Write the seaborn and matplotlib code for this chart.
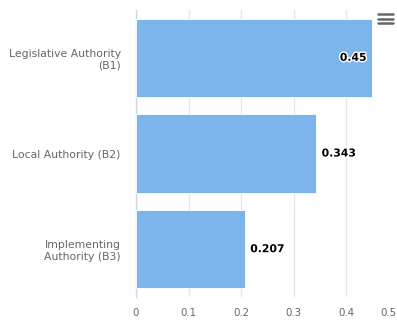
import matplotlib
matplotlib.use("Agg")
import matplotlib.pyplot as plt
import seaborn as sns
import pandas as pd
from matplotlib.lines import Line2D
import matplotlib.patheffects as pe

categories = ["Legislative Authority\n(B1)", "Local Authority (B2)", "Implementing\nAuthority (B3)"]
values = [0.45, 0.343, 0.207]
ticks = [0, 0.1, 0.2, 0.3, 0.4, 0.5]
tick_labels = ["0", "0.1", "0.2", "0.3", "0.4", "0.5"]

df = pd.DataFrame({"category": categories, "value": values})

sns.set_theme(style="white")
plt.rcParams["font.family"] = ["DejaVu Sans"]

W, H = 397, 322
fig = plt.figure(figsize=(W / 100, H / 100), dpi=100)
fig.patch.set_facecolor("white")
left, right, top, bottom = 136, 398.5, 10, 297
ax = fig.add_axes([left / W, 1 - bottom / H, (right - left) / W, (bottom - top) / H])

sns.barplot(data=df, x="value", y="category", orient="h", color="#7cb5ec",
            saturation=1, width=0.82, edgecolor="white", linewidth=0.6, ax=ax, zorder=3)

ax.set_xlim(0, 0.5)
ax.set_xticks(ticks)
# last label is drawn separately so it can be pulled inside the figure edge
ax.set_xticklabels(tick_labels[:-1] + [""], fontsize=7.4, color="#666666")
ax.annotate(tick_labels[-1], (ticks[-1], 0), xycoords=("data", "axes fraction"),
            xytext=(-1.5, -8), textcoords="offset points", ha="right", va="top",
            fontsize=7.4, color="#666666", annotation_clip=False)
ax.tick_params(axis="x", length=0, pad=8)
ax.tick_params(axis="y", length=0, pad=11)
for lbl in ax.get_yticklabels():
    lbl.set_fontsize(7.8)
    lbl.set_color("#666666")
    lbl.set_horizontalalignment("right")
    lbl.set_multialignment("right")
ax.set_xlabel("")
ax.set_ylabel("")
ax.grid(axis="x", color="#e6e6e6", linewidth=1, zorder=0)
ax.grid(axis="y", visible=False)
for s in ["top", "right", "bottom"]:
    ax.spines[s].set_visible(False)
ax.spines["left"].set_color("#ccd6eb")
ax.spines["left"].set_linewidth(1)

outline = [pe.withStroke(linewidth=2, foreground="white")]
for i, v in enumerate(values):
    inside = v > 0.4
    ax.annotate(f"{v:g}", (v, i), xytext=(-4 if inside else 4, 0), textcoords="offset points",
                ha="right" if inside else "left", va="center", fontsize=7.8, fontweight="bold",
                color="#000000", path_effects=outline, zorder=5)

# context menu icon
for yy in [14, 18.5, 23]:
    fig.add_artist(Line2D([378 / W, 393 / W], [1 - yy / H, 1 - yy / H],
                          color="#666666", linewidth=1.8, transform=fig.transFigure))

fig.savefig("out.png", dpi=100, facecolor="white")
